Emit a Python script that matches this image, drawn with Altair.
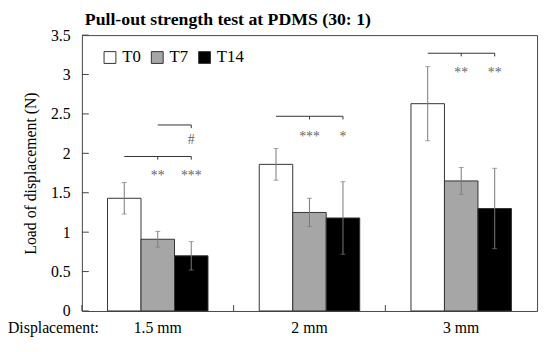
import altair as alt
import pandas as pd

groups = ["1.5 mm", "2 mm", "3 mm"]
series = ["T0", "T7", "T14"]
colors = ["#ffffff", "#a6a6a6", "#000000"]
means = {
    "T0": [1.43, 1.86, 2.63],
    "T7": [0.91, 1.25, 1.65],
    "T14": [0.70, 1.18, 1.30],
}
errs = {
    "T0": [0.20, 0.20, 0.47],
    "T7": [0.10, 0.18, 0.17],
    "T14": [0.18, 0.46, 0.51],
}
y_ticks = [0, 0.5, 1, 1.5, 2, 2.5, 3, 3.5]

# significance brackets: (group, from series, to series, level)
brackets = [
    ("1.5 mm", "T0", "T14", 1.96),
    ("1.5 mm", "T7", "T14", 2.36),
    ("2 mm", "T0", "T14", 2.47),
    ("3 mm", "T0", "T14", 3.27),
]
# bracket drop ticks: (group, series, level)
bracket_ticks = [
    ("1.5 mm", "T7", 1.96), ("1.5 mm", "T14", 1.96),
    ("1.5 mm", "T14", 2.36),
    ("2 mm", "T7", 2.47), ("2 mm", "T14", 2.47),
    ("3 mm", "T7", 3.27), ("3 mm", "T14", 3.27),
]
marks = [
    ("1.5 mm", "T7", 1.75, "**"), ("1.5 mm", "T14", 1.75, "***"),
    ("1.5 mm", "T14", 2.20, "#"),
    ("2 mm", "T7", 2.24, "***"), ("2 mm", "T14", 2.24, "*"),
    ("3 mm", "T7", 3.05, "**"), ("3 mm", "T14", 3.05, "**"),
]

rows = []
for s in series:
    for i, g in enumerate(groups):
        m, e = means[s][i], errs[s][i]
        rows.append({"group": g, "series": s, "mean": m, "lo": m - e, "hi": m + e})
df = pd.DataFrame(rows)

line_rows = []
for k, (g, a, b, lv) in enumerate(brackets):
    line_rows.append({"group": g, "series": a, "y": lv, "id": k})
    line_rows.append({"group": g, "series": b, "y": lv, "id": k})
lines_df = pd.DataFrame(line_rows)
ticks_df = pd.DataFrame([{"group": g, "series": s, "y": lv, "y2": lv - 0.04} for g, s, lv in bracket_ticks])
marks_df = pd.DataFrame([{"group": g, "series": s, "y": lv, "t": t} for g, s, lv, t in marks])
yt_df = pd.DataFrame({"v": y_ticks})
grp_df = pd.DataFrame({"group": groups})

W, H = 462, 280
FONT = "Liberation Serif"

xs = alt.X("group:N", sort=groups, scale=alt.Scale(domain=groups, paddingInner=0, paddingOuter=0),
           axis=alt.Axis(title=None, labelAngle=0, ticks=False, domain=False, labelFont=FONT,
                         labelFontSize=16, labelColor="black", labelPadding=9))
xo = alt.XOffset("series:N", sort=series,
                 scale=alt.Scale(domain=series, paddingInner=0, paddingOuter=0.765))
yaxis = alt.Axis(title="Load of displacement (N)", values=y_ticks, format=".1~f",
                 grid=False, ticks=False, domain=False, labelFont=FONT, labelFontSize=16,
                 labelColor="black", labelPadding=12, labelOverlap=False,
                 titleFont=FONT, titleFontSize=16,
                 titleFontWeight="normal", titleColor="black", titlePadding=12)
yscale = alt.Scale(domain=[0, 3.5], nice=False)


def Y(field):
    return alt.Y(field, scale=yscale, axis=yaxis)


def X():
    return alt.X("group:N", sort=groups)


def XO():
    return alt.XOffset("series:N", sort=series)


bars = alt.Chart(df).mark_bar(stroke="#333333", strokeWidth=1).encode(
    x=xs, xOffset=xo, y=Y("mean:Q"),
    fill=alt.Fill("series:N", sort=series, scale=alt.Scale(domain=series, range=colors),
                  legend=alt.Legend(title=None, orient="none", legendX=20, legendY=14,
                                    direction="horizontal", symbolType="square", symbolSize=144,
                                    symbolStrokeColor="#333333", symbolStrokeWidth=1,
                                    labelFont=FONT, labelFontSize=17, labelColor="black",
                                    labelOffset=4, columnPadding=8)),
)

ebar = alt.Chart(df).mark_rule(color="#7a7a7a", strokeWidth=1).encode(
    x=X(), xOffset=XO(), y=Y("lo:Q"), y2="hi:Q")
capl = alt.Chart(df).mark_tick(color="#7a7a7a", thickness=1, size=5, orient="horizontal").encode(
    x=X(), xOffset=XO(), y=Y("lo:Q"))
caph = alt.Chart(df).mark_tick(color="#7a7a7a", thickness=1, size=5, orient="horizontal").encode(
    x=X(), xOffset=XO(), y=Y("hi:Q"))

blines = alt.Chart(lines_df).mark_line(color="#333333", strokeWidth=1).encode(
    x=X(), xOffset=XO(), y=Y("y:Q"), detail="id:N")
bticks = alt.Chart(ticks_df).mark_rule(color="#333333", strokeWidth=1).encode(
    x=X(), xOffset=XO(), y=Y("y:Q"), y2="y2:Q")
btext = alt.Chart(marks_df).mark_text(font=FONT, fontSize=14, color="#666666",
                                      baseline="middle", dy=3).encode(
    x=X(), xOffset=XO(), y=Y("y:Q"), text="t:N")

ytick = alt.Chart(yt_df).mark_rule(color="#444444", strokeWidth=1).encode(
    y=Y("v:Q"), x=alt.value(0), x2=alt.value(7))
xtick = alt.Chart(grp_df).mark_rule(color="#444444", strokeWidth=1).encode(
    x=alt.X("group:N", sort=groups, bandPosition=0), y=alt.value(H), y2=alt.value(H - 6))
disp = alt.Chart(grp_df.head(1)).mark_text(font=FONT, fontSize=16, align="left",
                                            baseline="middle", color="black").encode(
    x=alt.value(-75), y=alt.value(H + 17), text=alt.value("Displacement:"))

chart = alt.layer(bars, ebar, capl, caph, blines, bticks, btext, ytick, xtick, disp).properties(
    width=W, height=H,
    title=alt.TitleParams("Pull-out strength test at PDMS (30: 1)", font=FONT, fontSize=18,
                          fontWeight="bold", anchor="start", frame="group", offset=-2,
                          dx=3, color="black"),
    autosize=alt.AutoSizeParams(type="none"),
    padding={"left": 75, "top": 25, "right": 5, "bottom": 31},
).configure_view(stroke="#444444", strokeWidth=1).configure_axisY(labelOverlap=False)

chart.save("out.html", embed_options={"renderer": "svg", "actions": False})
